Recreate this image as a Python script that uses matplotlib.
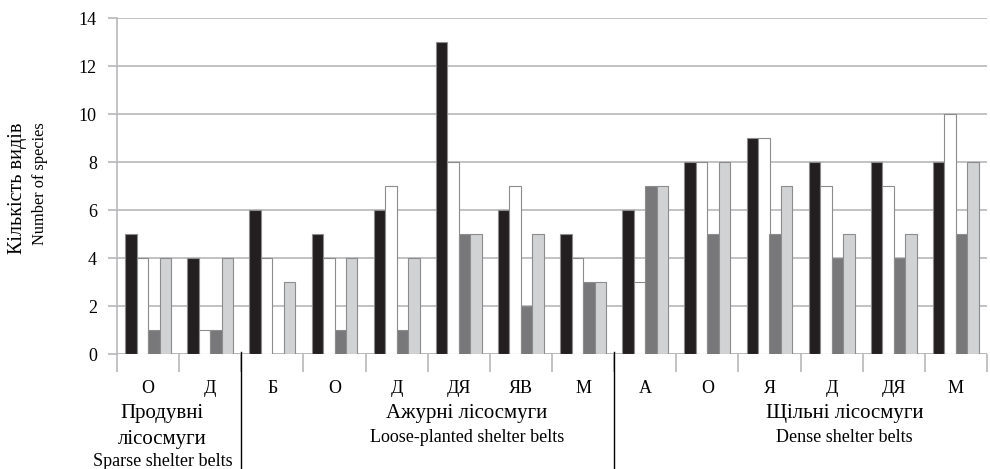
import numpy as np
import matplotlib
matplotlib.use("Agg")
from matplotlib import pyplot as plt
from matplotlib.transforms import blended_transform_factory

plt.rcParams['font.family'] = ['Liberation Serif', 'DejaVu Serif']

categories = ['О', 'Д', 'Б', 'О', 'Д', 'ДЯ', 'ЯВ', 'М', 'А', 'О', 'Я', 'Д', 'ДЯ', 'М']
series_1 = [5, 4, 6, 5, 6, 13, 6, 5, 6, 8, 9, 8, 8, 8]
series_2 = [4, 1, 4, 4, 7, 8, 7, 4, 3, 8, 9, 7, 7, 10]
series_3 = [1, 1, 0, 1, 1, 5, 2, 3, 7, 5, 5, 4, 4, 5]
series_4 = [4, 4, 3, 4, 4, 5, 5, 3, 7, 8, 7, 5, 5, 8]

group_ua = [['Продувні', 'лісосмуги'], ['Ажурні лісосмуги'], ['Щільні лісосмуги']]
group_en = ['Sparse shelter belts', 'Loose-planted shelter belts', 'Dense shelter belts']
# label centres (in category units) and separator positions
group_x = [0.23, 5.13, 11.21]
separators = [1.5, 7.5]

fig = plt.figure(figsize=(9.9, 4.69), dpi=100)
ax = fig.add_axes([117 / 990, 115 / 469, 870 / 990, 336 / 469])

x = np.arange(len(categories))
w = 0.185
colors = ['#231f20', '#ffffff', '#78787a', '#d1d2d4']
for i, (vals, c) in enumerate(zip([series_1, series_2, series_3, series_4], colors)):
    ax.bar(x + (i - 1.5) * w, vals, width=w, color=c, edgecolor='#8c8c8c',
           linewidth=0.8, zorder=3)

ax.set_xlim(-0.5, len(categories) - 0.5)
ax.set_ylim(0, 14)
ax.set_yticks(range(0, 15, 2))
ax.yaxis.grid(True, color='#b8b8ba', linewidth=1.2, zorder=0)

for s in ['top', 'right', 'bottom']:
    ax.spines[s].set_visible(False)
ax.spines['left'].set_color('#b8b8ba')
ax.spines['left'].set_linewidth(1.2)
ax.axhline(0, color='#b8b8ba', linewidth=1.2, zorder=2)

ax.set_xticks(x)
ax.set_xticklabels(categories)
ax.set_xticks(np.arange(-0.5, len(categories), 1), minor=True)
ax.tick_params(axis='x', which='major', length=0, pad=18.5, labelsize=13)
ax.tick_params(axis='x', which='minor', length=13, color='#b8b8ba', width=1.2)
ax.tick_params(axis='y', length=6.5, color='#b8b8ba', width=1.2, pad=8, labelsize=13)

fig.text(18 / 990, 1 - 122 / 469, 'Кількість видів', rotation=90, ha='center', va='top', fontsize=14.5)
fig.text(40 / 990, 1 - 122 / 469, 'Number of species', rotation=90, ha='center', va='top', fontsize=11.8)

tr = blended_transform_factory(ax.transData, fig.transFigure)
for xs in separators:
    ax.plot([xs, xs], [1 - 352 / 469, 0], color='black', linewidth=1, transform=tr, clip_on=False)

for cx, ua, en in zip(group_x, group_ua, group_en):
    y = 1 - 418 / 469
    for line in ua:
        ax.text(cx, y, line, transform=tr, ha='center', va='baseline', fontsize=15)
        y -= 26 / 469
    if len(ua) == 1:
        ax.text(cx, 1 - 442 / 469, en, transform=tr, ha='center', va='baseline', fontsize=13)
    else:
        ax.text(cx, 1 - 466 / 469, en, transform=tr, ha='center', va='baseline', fontsize=13)

fig.savefig('out.png', dpi=100)
